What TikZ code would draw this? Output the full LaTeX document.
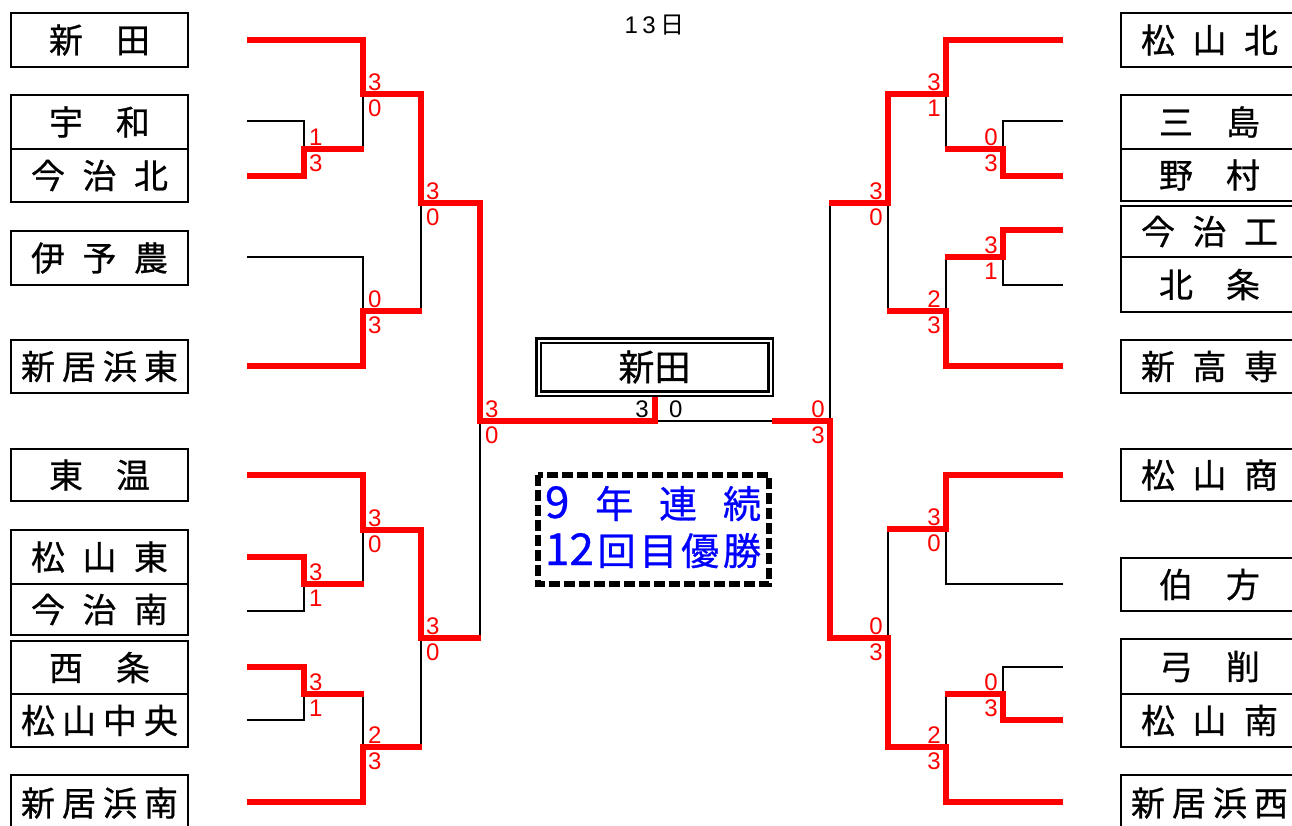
\documentclass[tikz,border=0pt]{standalone}
\usepackage{fontspec}
\newfontfamily\jp{Noto Sans CJK JP}[FakeBold=0.7]
\newfontfamily\jpl{Noto Sans CJK JP}
\newfontfamily\dg{Liberation Sans}
\definecolor{wred}{RGB}{255,0,0}
\definecolor{wblue}{RGB}{0,0,255}
\newcommand\nmA[2]{\makebox[101pt][s]{#1\hfill#2}}
\newcommand\nmB[3]{\makebox[137pt][s]{#1\hfill#2\hfill#3}}
\newcommand\nmC[4]{\makebox[157pt][s]{#1\hfill#2\hfill#3\hfill#4}}
\newcommand\nmD[5]{\makebox[216pt][s]{#1\hfill#2\hfill#3\hfill#4\hfill#5}}
\newcommand\tbox[5]{\node[teambox, minimum height=#4pt] (#1) at (#2,#3) {#5};}
\newcommand\scl[4]{%
  \node[sc,anchor=base west,xshift=5pt,yshift=4pt] (s#1-#2a) at (#1,#2) {#3};
  \node[sc,anchor=base west,xshift=5pt,yshift=-22pt] (s#1-#2b) at (#1,#2) {#4};}
\newcommand\scr[4]{%
  \node[sc,anchor=base east,xshift=-5pt,yshift=4pt] (s#1-#2a) at (#1,#2) {#3};
  \node[sc,anchor=base east,xshift=-5pt,yshift=-22pt] (s#1-#2b) at (#1,#2) {#4};}
\newcommand\bigdg[1]{{\fontsize{44}{44}\selectfont #1}}
\begin{document}
\begin{tikzpicture}[x=1pt,y=-1pt,
  win/.style={draw=wred, line width=6.5pt, line join=miter},
  lose/.style={draw=black, line width=2.2pt},
  teambox/.style={draw, line width=2.2pt, minimum width=177pt, inner sep=0pt, font=\jp\fontsize{34}{40}\selectfont},
  sc/.style={inner sep=0pt, font=\dg\fontsize{24}{24}\selectfont, text=wred}]
\useasboundingbox[fill=white] (0,0) rectangle (1292,825);

% left team boxes
\tbox{L1}{99.5}{40}{54}{\nmA{新}{田}}
\tbox{L2}{99.5}{122}{54}{\nmA{宇}{和}}
\tbox{L3}{99.5}{175.5}{53}{\nmB{今}{治}{北}}
\tbox{L4}{99.5}{258}{54}{\nmB{伊}{予}{農}}
\tbox{L5}{99.5}{366.5}{53}{\nmC{新}{居}{浜}{東}}
\tbox{L6}{99.5}{475}{52}{\nmA{東}{温}}
\tbox{L7}{99.5}{557}{54}{\nmB{松}{山}{東}}
\tbox{L8}{99.5}{609.5}{51}{\nmB{今}{治}{南}}
\tbox{L9}{99.5}{667.5}{53}{\nmA{西}{条}}
\tbox{L10}{99.5}{720.5}{53}{\nmC{松}{山}{中}{央}}
\tbox{L11}{99.5}{803}{56}{\nmC{新}{居}{浜}{南}}

% right team boxes
\tbox{R1}{1209.5}{40}{54}{\nmB{松}{山}{北}}
\tbox{R2}{1209.5}{122}{54}{\nmA{三}{島}}
\tbox{R3}{1209.5}{175}{52}{\nmA{野}{村}}
\tbox{R4}{1209.5}{231.5}{51}{\nmB{今}{治}{工}}
\tbox{R5}{1209.5}{284.5}{55}{\nmA{北}{条}}
\tbox{R6}{1209.5}{366.5}{53}{\nmB{新}{高}{専}}
\tbox{R7}{1209.5}{475}{52}{\nmB{松}{山}{商}}
\tbox{R8}{1209.5}{584.5}{53}{\nmA{伯}{方}}
\tbox{R9}{1209.5}{666.5}{55}{\nmA{弓}{削}}
\tbox{R10}{1209.5}{720.5}{53}{\nmB{松}{山}{南}}
\tbox{R11}{1209.5}{803}{56}{\nmC{新}{居}{浜}{西}}

% title
\node[inner sep=0pt, font=\fontsize{24}{24}\selectfont] (day) at (654.5,25)
  {\makebox[60pt][s]{\dg 1\hfill 3\hfill\jpl 日}};

% champion box
\node[draw, line width=2.3pt, double=white, double distance=2pt,
  minimum width=232pt, minimum height=53pt, inner sep=0pt,
  font=\jp\fontsize{36}{40}\selectfont] (champ) at (654.5,367) {新田};

% team line starts
\coordinate (a1) at (247,40);   \coordinate (a2) at (247,121);
\coordinate (a3) at (247,176);  \coordinate (a4) at (247,257);
\coordinate (a5) at (247,366);  \coordinate (a6) at (247,475);
\coordinate (a7) at (247,557);  \coordinate (a8) at (247,611);
\coordinate (a9) at (247,667);  \coordinate (a10) at (247,720);
\coordinate (a11) at (247,802);
\coordinate (b1) at (1063,40);   \coordinate (b2) at (1063,121);
\coordinate (b3) at (1063,176);  \coordinate (b4) at (1063,230);
\coordinate (b5) at (1063,285);  \coordinate (b6) at (1063,366);
\coordinate (b7) at (1063,475);  \coordinate (b8) at (1063,584);
\coordinate (b9) at (1063,667);  \coordinate (b10) at (1063,720);
\coordinate (b11) at (1063,802);

% losing (black) lines, left
\draw[lose] (a2) -- (304,121) -- (304,149);
\draw[lose] (363,149) -- (363,94);
\draw[lose] (a4) -- (363,257) -- (363,311);
\draw[lose] (421,311) -- (421,203);
\draw[lose] (a8) -- (304,611) -- (304,584);
\draw[lose] (363,584) -- (363,530);
\draw[lose] (a10) -- (304,720) -- (304,694);
\draw[lose] (363,694) -- (363,747);
\draw[lose] (421,747) -- (421,638);
\draw[lose] (480,638) -- (480,420);
\draw[lose] (655,421) -- (772,421);
% losing (black) lines, right
\draw[lose] (b2) -- (1003,121) -- (1003,149);
\draw[lose] (946,149) -- (946,94);
\draw[lose] (b5) -- (1003,285) -- (1003,257);
\draw[lose] (946,257) -- (946,311);
\draw[lose] (888,311) -- (888,203);
\draw[lose] (830,203) -- (830,421);
\draw[lose] (b8) -- (946,584) -- (946,529);
\draw[lose] (888,529) -- (888,638);
\draw[lose] (b9) -- (1003,667) -- (1003,694);
\draw[lose] (946,694) -- (946,747);

% winning (red) lines, left
\draw[win] (a1) -- (363,40) -- (363,94) -- (421,94) -- (421,203) -- (480,203) -- (480,421) -- (655,421) -- (655,397);
\draw[win] (a3) -- (304,176) -- (304,149) -- (364,149);
\draw[win] (a5) -- (363,366) -- (363,311) -- (422,311);
\draw[win] (a6) -- (363,475) -- (363,530) -- (421,530) -- (421,638) -- (481,638);
\draw[win] (a7) -- (304,557) -- (304,584) -- (364,584);
\draw[win] (a9) -- (304,667) -- (304,694) -- (364,694);
\draw[win] (a11) -- (363,802) -- (363,747) -- (422,747);
% winning (red) lines, right
\draw[win] (b1) -- (946,40) -- (946,94) -- (888,94) -- (888,203) -- (829,203);
\draw[win] (b3) -- (1003,176) -- (1003,149) -- (945,149);
\draw[win] (b4) -- (1003,230) -- (1003,257) -- (945,257);
\draw[win] (b6) -- (946,366) -- (946,311) -- (887,311);
\draw[win] (b7) -- (946,475) -- (946,529) -- (887,529);
\draw[win] (b10) -- (1003,720) -- (1003,694) -- (945,694);
\draw[win] (b11) -- (946,802) -- (946,747) -- (888,747) -- (888,638) -- (830,638) -- (830,421) -- (772,421);

% scores, left
\scl{363}{94}{3}{0}
\scl{304}{149}{1}{3}
\scl{421}{203}{3}{0}
\scl{363}{311}{0}{3}
\scl{480}{421}{3}{0}
\scl{363}{530}{3}{0}
\scl{304}{584}{3}{1}
\scl{421}{638}{3}{0}
\scl{304}{694}{3}{1}
\scl{363}{747}{2}{3}
% scores, right
\scr{946}{94}{3}{1}
\scr{1003}{149}{0}{3}
\scr{888}{203}{3}{0}
\scr{1003}{257}{3}{1}
\scr{946}{311}{2}{3}
\scr{830}{421}{0}{3}
\scr{946}{529}{3}{0}
\scr{888}{638}{0}{3}
\scr{1003}{694}{0}{3}
\scr{946}{747}{2}{3}
% final score
\node[sc, text=black, anchor=base east] (fs1) at (649,417) {3};
\node[sc, text=black, anchor=base west] (fs2) at (669,417) {0};

% hatched box
\draw[line width=6pt, dash pattern=on 11pt off 4pt] (538,475) rectangle (769,584);
\node[inner sep=0pt, anchor=base, text=wblue, font=\jp\fontsize{38}{40}\selectfont] (win1) at (653,518)
  {\makebox[216pt][s]{\bigdg{9}\hfill 年\hfill 連\hfill 続}};
\node[inner sep=0pt, anchor=base, text=wblue, font=\jp\fontsize{38}{40}\selectfont] (win2) at (653,565)
  {\nmD{\bigdg{12}}{回}{目}{優}{勝}};
\end{tikzpicture}
\end{document}
